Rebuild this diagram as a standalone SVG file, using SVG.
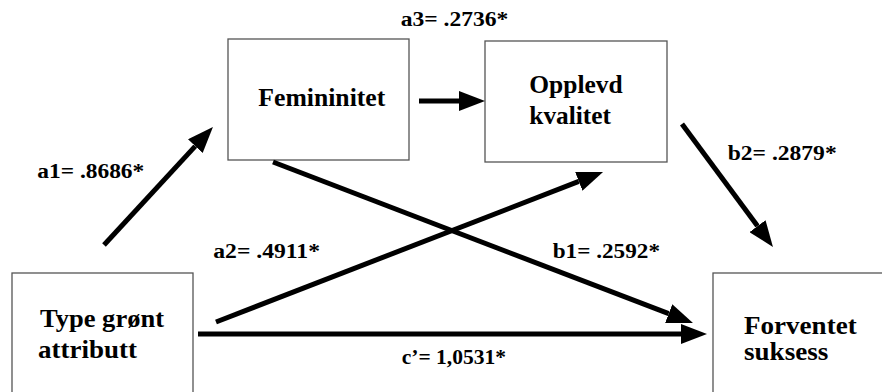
<svg xmlns="http://www.w3.org/2000/svg" width="882" height="392" viewBox="0 0 882 392">
<style>
text{font-family:"Liberation Serif","Times New Roman",serif;font-weight:bold;fill:#000}
.n{font-size:25px}
.l{font-size:20px}
.box{fill:#fff;stroke:#555;stroke-width:1.3}
.c{stroke:#000;stroke-width:5;fill:none}
</style>
<defs>
<marker id="ah" markerUnits="userSpaceOnUse" markerWidth="27" markerHeight="20" refX="0" refY="10" orient="auto">
<path d="M0,0 L26,10 L0,20 z" fill="#000"/>
</marker>
</defs>
<rect width="882" height="392" fill="#fff"/>
<g id="node-type">
<rect class="box" x="12" y="273" width="181" height="130"/>
<text class="n" x="40" y="326.7" textLength="124" lengthAdjust="spacingAndGlyphs">Type grønt</text>
<text class="n" x="38" y="358.3" textLength="99" lengthAdjust="spacingAndGlyphs">attributt</text>
</g>
<g id="node-femininitet">
<rect class="box" x="228" y="39" width="181" height="121"/>
<text class="n" x="258.3" y="105.7" textLength="127" lengthAdjust="spacingAndGlyphs">Femininitet</text>
</g>
<g id="node-opplevd">
<rect class="box" x="485" y="41" width="182" height="121"/>
<text class="n" x="529.3" y="92.7" textLength="93.4" lengthAdjust="spacingAndGlyphs">Opplevd</text>
<text class="n" x="529.3" y="124" textLength="81.7" lengthAdjust="spacingAndGlyphs">kvalitet</text>
</g>
<g id="node-forventet">
<rect class="box" x="713" y="273" width="181" height="130"/>
<text class="n" x="744" y="334.3" textLength="112.7" lengthAdjust="spacingAndGlyphs">Forventet</text>
<text class="n" x="744" y="360" textLength="84.3" lengthAdjust="spacingAndGlyphs">suksess</text>
</g>
<g id="connectors">
<line class="c" x1="104" y1="245" x2="195.3" y2="146.1" marker-end="url(#ah)"/>
<line class="c" x1="419" y1="101" x2="459" y2="101" marker-end="url(#ah)"/>
<line class="c" x1="682" y1="124" x2="757.5" y2="226.1" marker-end="url(#ah)"/>
<line class="c" x1="216" y1="322" x2="578.8" y2="181.4" marker-end="url(#ah)"/>
<line class="c" x1="273" y1="162" x2="668.7" y2="313.7" marker-end="url(#ah)"/>
<line class="c" x1="198" y1="334" x2="681" y2="334" stroke-width="6" marker-end="url(#ah)"/>
</g>
<g id="labels">
<text class="l" x="37.3" y="178.3" textLength="107" lengthAdjust="spacingAndGlyphs">a1= .8686*</text>
<text class="l" x="400.7" y="26" textLength="107.7" lengthAdjust="spacingAndGlyphs">a3= .2736*</text>
<text class="l" x="727.7" y="160" textLength="109" lengthAdjust="spacingAndGlyphs">b2= .2879*</text>
<text class="l" x="213.3" y="258.3" textLength="106.7" lengthAdjust="spacingAndGlyphs">a2= .4911*</text>
<text class="l" x="552.7" y="258.3" textLength="107.3" lengthAdjust="spacingAndGlyphs">b1= .2592*</text>
<text class="l" x="401.7" y="364.3" textLength="104.3" lengthAdjust="spacingAndGlyphs">c’= 1,0531*</text>
</g>
</svg>
